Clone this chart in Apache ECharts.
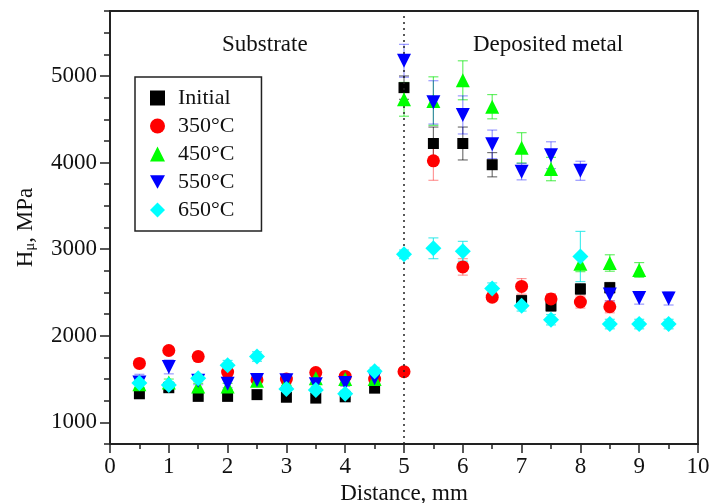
<!DOCTYPE html>
<html lang="en">
<head>
    <meta charset="UTF-8">
    <title>Hardness</title>
    <script src="https://cdn.jsdelivr.net/npm/echarts@6/dist/echarts.min.js"></script>
    <style>
        body { margin: 0; background: #fff; }
    </style>
</head>
<body>
<div id="main" style="width: 711px;height:503px;"></div>
<script>
    var distance = [0.5, 1, 1.5, 2, 2.5, 3, 3.5, 4, 4.5, 5, 5.5, 6, 6.5, 7, 7.5, 8, 8.5, 9, 9.5]

    var initial    = [1330, 1400, 1300, 1300, 1320, 1290, 1280, 1295, 1395, 4865, 4220, 4220, 3975, 2405, 2345, 2540, 2555, null, null]
    var initialErr = [40, 40, 30, 30, 30, 30, 30, 30, 35, 135, 190, 190, 140, 60, 60, 60, 60, null, null]

    var t350    = [1680, 1830, 1760, 1580, 1490, 1500, 1575, 1530, 1500, 1585, 4020, 2795, 2445, 2570, 2425, 2390, 2335, null, null]
    var t350Err = [50, 45, 50, 45, 40, 35, 40, 35, 35, 40, 225, 95, 50, 90, 60, 70, 70, null, null]

    var t450    = [1440, 1460, 1415, 1415, 1480, 1455, 1510, 1500, 1500, 4730, 4710, 4950, 4645, 4170, 3925, 2830, 2840, 2760, null]
    var t450Err = [40, 40, 35, 35, 35, 30, 35, 35, 35, 195, 280, 225, 140, 175, 135, 90, 95, 85, null]

    var t550    = [1460, 1640, 1480, 1445, 1490, 1485, 1440, 1455, 1510, 5175, 4695, 4550, 4210, 3895, 4085, 3905, 2475, 2435, 2430]
    var t550Err = [95, 80, 45, 45, 40, 40, 40, 40, 40, 190, 250, 220, 165, 95, 155, 110, 75, 70, 75]

    var t650    = [1455, 1430, 1510, 1660, 1760, 1385, 1375, 1330, 1590, 2940, 3010, 2975, 2545, 2345, 2185, 2915, 2135, 2135, 2135]
    var t650Err = [50, 40, 40, 55, 55, 40, 40, 40, 45, 50, 120, 115, 65, 60, 60, 290, 55, 55, 55]

    var xTicks = [0, 1, 2, 3, 4, 5, 6, 7, 8, 9, 10]
    var yTicks = [1000, 2000, 3000, 4000, 5000]

    var font = '"Liberation Serif", "Times New Roman", serif'
    var downTri = 'path://M0,0 L10,0 L5,9 Z'

    var groups = [
        {name: 'Initial', vals: initial, errs: initialErr, color: '#000000', bar: 'rgba(0,0,0,0.55)', symbol: 'rect', size: 11},
        {name: '350°C', vals: t350, errs: t350Err, color: '#ff0000', bar: 'rgba(255,0,0,0.4)', symbol: 'circle', size: 13},
        {name: '450°C', vals: t450, errs: t450Err, color: '#00ff00', bar: 'rgba(0,230,0,0.6)', symbol: 'triangle', size: 14},
        {name: '550°C', vals: t550, errs: t550Err, color: '#0000ff', bar: 'rgba(0,0,255,0.4)', symbol: downTri, size: 14},
        {name: '650°C', vals: t650, errs: t650Err, color: '#00ffff', bar: 'rgba(0,230,230,0.7)', symbol: 'diamond', size: 16}
    ]

    function pairs(vals, errs) {
        var out = []
        for (var i = 0; i < distance.length; i++) {
            if (vals[i] == null) continue
            out.push([distance[i], vals[i], errs[i]])
        }
        return out
    }

    function errRender(color) {
        return function (params, api) {
            var x = api.value(0), y = api.value(1), e = api.value(2)
            var hi = api.coord([x, y + e])
            var lo = api.coord([x, y - e])
            var w = 5
            var st = {stroke: color, lineWidth: 1.2}
            return {
                type: 'group',
                children: [
                    {type: 'line', shape: {x1: hi[0], y1: hi[1], x2: lo[0], y2: lo[1]}, style: st},
                    {type: 'line', shape: {x1: hi[0] - w, y1: hi[1], x2: hi[0] + w, y2: hi[1]}, style: st},
                    {type: 'line', shape: {x1: lo[0] - w, y1: lo[1], x2: lo[0] + w, y2: lo[1]}, style: st}
                ]
            }
        }
    }

    var series = []
    groups.forEach(function (g) {
        series.push({
            type: 'custom',
            name: g.name + ' err',
            renderItem: errRender(g.bar),
            data: pairs(g.vals, g.errs),
            encode: {x: 0, y: 1},
            z: 2,
            silent: true
        })
    })
    groups.forEach(function (g, k) {
        var s = {
            type: 'scatter',
            name: g.name,
            data: pairs(g.vals, g.errs).map(function (p) { return [p[0], p[1]] }),
            symbol: g.symbol,
            symbolSize: g.size,
            itemStyle: {color: g.color, opacity: 1},
            z: 3 + k
        }
        if (k === 0) {
            s.markLine = {
                silent: true,
                symbol: 'none',
                label: {show: false},
                lineStyle: {color: '#222', type: [2, 4], width: 1.5},
                data: [{xAxis: 5}]
            }
        }
        series.push(s)
    })

    var myChart = echarts.init(document.getElementById('main'))

    option = {
        backgroundColor: '#fff',
        animation: false,
        textStyle: {fontFamily: font},
        grid: {
            left: 110,
            right: 13,
            top: 11,
            bottom: 59,
            containLabel: false,
            outerBoundsMode: 'none',
            show: true,
            borderColor: '#222',
            borderWidth: 1.8
        },
        legend: {
            orient: 'vertical',
            left: 135,
            top: 77,
            data: groups.map(function (g) { return g.name }),
            itemWidth: 15,
            itemHeight: 15,
            itemGap: 6,
            padding: [10, 27, 10, 15],
            borderColor: '#222',
            borderWidth: 1.5,
            textStyle: {fontFamily: font, fontSize: 22, color: '#111', padding: [0, 0, 0, 8]}
        },
        xAxis: [
            {
                type: 'value',
                min: 0,
                max: 10,
                interval: 0.5,
                name: 'Distance, mm',
                nameLocation: 'middle',
                nameGap: 31,
                nameTextStyle: {fontFamily: font, fontSize: 23, color: '#111'},
                axisLine: {lineStyle: {color: '#222', width: 1.8}},
                axisTick: {length: 5, lineStyle: {color: '#222', width: 1.5}},
                axisLabel: {
                    fontFamily: font, fontSize: 23, color: '#111', margin: 11,
                    formatter: function (v) { return xTicks.indexOf(v) >= 0 ? String(v) : '' }
                },
                splitLine: {show: false}
            },
            {
                type: 'value',
                position: 'bottom',
                min: 0,
                max: 10,
                interval: 0.5,
                axisLine: {show: false},
                axisTick: {length: 9, customValues: xTicks, lineStyle: {color: '#222', width: 1.5}},
                axisLabel: {show: false},
                splitLine: {show: false}
            }
        ],
        yAxis: [
            {
                type: 'value',
                min: 750,
                max: 5750,
                interval: 250,
                name: '{h|H}{s|μ}{h|, MPa}',
                nameLocation: 'middle',
                nameGap: 72,
                nameTextStyle: {
                    rich: {
                        h: {fontFamily: font, fontSize: 23, color: '#111'},
                        s: {fontFamily: font, fontSize: 15, color: '#111', verticalAlign: 'bottom', padding: [9, 0, 0, 0]}
                    }
                },
                axisLine: {lineStyle: {color: '#222', width: 1.8}},
                axisTick: {length: 6, lineStyle: {color: '#222', width: 1.5}},
                axisLabel: {
                    fontFamily: font, fontSize: 23, color: '#111', margin: 13,
                    formatter: function (v) { return yTicks.indexOf(v) >= 0 ? String(v) : '' }
                },
                splitLine: {show: false}
            },
            {
                type: 'value',
                position: 'left',
                min: 750,
                max: 5750,
                interval: 250,
                axisLine: {show: false},
                axisTick: {length: 10, customValues: yTicks, lineStyle: {color: '#222', width: 1.5}},
                axisLabel: {show: false},
                splitLine: {show: false}
            }
        ],
        graphic: [
            {type: 'text', left: 222, top: 33, style: {text: 'Substrate', font: '23px ' + font, fill: '#111'}},
            {type: 'text', left: 473, top: 33, style: {text: 'Deposited metal', font: '23px ' + font, fill: '#111'}}
        ],
        series: series
    };

    myChart.setOption(option);
</script>
</body>
</html>
